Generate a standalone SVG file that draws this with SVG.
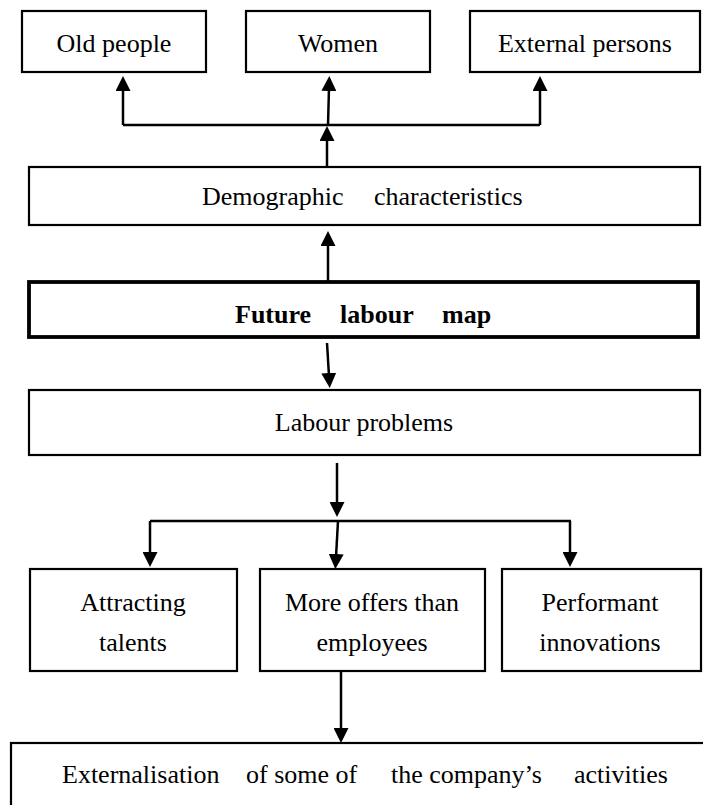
<svg xmlns="http://www.w3.org/2000/svg" width="703" height="805" viewBox="0 0 703 805">
<style>
  .box { fill: #fff; stroke: #000; stroke-width: 2.2; }
  .thick { fill: #fff; stroke: #000; stroke-width: 3.8; }
  .t { font-family: "Liberation Serif", "Times New Roman", serif; font-size: 26px; fill: #000; }
  .c { text-anchor: middle; }
  .b { font-weight: bold; }
  .ln { fill: none; stroke: #000; stroke-width: 2.5; }
  .ar { fill: none; stroke: #000; stroke-width: 2.5; marker-end: url(#ah); }
</style>
<defs>
  <marker id="ah" viewBox="0 0 15 15" refX="3" refY="7.5" markerWidth="15" markerHeight="15" markerUnits="userSpaceOnUse" orient="auto">
    <path d="M0,0 L15,7.5 L0,15 z" fill="#000"/>
  </marker>
</defs>
<rect width="703" height="805" fill="#fff"/>

<g id="connectors">
  <path class="ln" d="M123,125 H540"/>
  <path class="ar" d="M123,125 V88"/>
  <path class="ar" d="M328,125 L329,88"/>
  <path class="ar" d="M540,125 V88"/>
  <path class="ar" d="M327,167 V138"/>
  <path class="ar" d="M328,282 V243"/>
  <path class="ar" d="M327,343 L329,376"/>
  <path class="ar" d="M337,463 V505"/>
  <path class="ln" d="M150,521 H571"/>
  <path class="ar" d="M150,521 V555"/>
  <path class="ar" d="M338,521 L336,557"/>
  <path class="ar" d="M570,521 V555"/>
  <path class="ar" d="M341,671 V731"/>
</g>

<g id="old-people">
  <rect class="box" x="22" y="11" width="184" height="61"/>
  <text class="t c" x="114" y="52">Old people</text>
</g>
<g id="women">
  <rect class="box" x="246" y="11" width="184" height="61"/>
  <text class="t c" x="338" y="52">Women</text>
</g>
<g id="external-persons">
  <rect class="box" x="470" y="11" width="230" height="61"/>
  <text class="t c" x="585" y="52">External persons</text>
</g>

<g id="demographic">
  <rect class="box" x="29" y="167" width="671" height="58"/>
  <text class="t" x="202" y="205">Demographic</text>
  <text class="t" x="374" y="205">characteristics</text>
</g>

<g id="future-labour-map">
  <rect class="thick" x="29" y="282" width="669" height="55"/>
  <text class="t b" x="235" y="323">Future</text>
  <text class="t b" x="340" y="323">labour</text>
  <text class="t b" x="442" y="323">map</text>
</g>

<g id="labour-problems">
  <rect class="box" x="29" y="390" width="671" height="65"/>
  <text class="t c" x="364" y="431">Labour problems</text>
</g>

<g id="attracting-talents">
  <rect class="box" x="30" y="569" width="207" height="102"/>
  <text class="t c" x="133" y="611">Attracting</text>
  <text class="t c" x="133" y="651">talents</text>
</g>
<g id="more-offers">
  <rect class="box" x="260" y="569" width="225" height="102"/>
  <text class="t c" x="372" y="611">More offers than</text>
  <text class="t c" x="372" y="651">employees</text>
</g>
<g id="performant-innovations">
  <rect class="box" x="502" y="569" width="199" height="102"/>
  <text class="t c" x="600" y="611">Performant</text>
  <text class="t c" x="600" y="651">innovations</text>
</g>

<g id="externalisation">
  <rect class="box" x="11" y="743" width="720" height="100"/>
  <text class="t" x="62" y="783">Externalisation</text>
  <text class="t" x="246" y="783">of some of</text>
  <text class="t" x="391" y="783">the company’s</text>
  <text class="t" x="574" y="783">activities</text>
</g>
</svg>
